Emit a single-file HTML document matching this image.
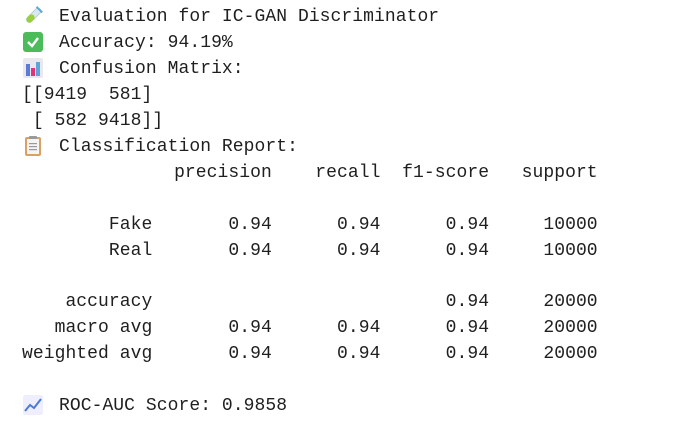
<!DOCTYPE html>
<html><head><meta charset="utf-8"><style>
html,body{margin:0;padding:0;background:#fff;width:675px;height:422px;overflow:hidden}
.l{position:absolute;left:22px;font-family:"Liberation Mono",monospace;font-size:18px;line-height:26px;height:26px;color:#1f1f1f;white-space:pre;letter-spacing:0.06px}
.e{position:absolute;left:23px;width:20px;height:20px}
</style></head><body>
<svg class="e" style="top:6px" viewBox="0 0 20 20"><g transform="rotate(45 10 10)"><rect x="7" y="0" width="6" height="18" rx="3" fill="#d8e8f0" stroke="#9bb" stroke-width="0.6"/><rect x="7" y="9" width="6" height="9" rx="3" fill="#9ad13a"/><rect x="6" y="0" width="8" height="2" fill="#5aa6d8"/></g></svg>
<div class="l" style="top:4px;left:59px">Evaluation for IC-GAN Discriminator</div>
<svg class="e" style="top:32px" viewBox="0 0 20 20"><rect x="0" y="0" width="20" height="20" rx="3" fill="#4cbb5a"/><path d="M5 10 L9 14 L15 6" stroke="#fff" stroke-width="2.4" fill="none"/></svg>
<div class="l" style="top:30px;left:59px">Accuracy: 94.19%</div>
<svg class="e" style="top:58px" viewBox="0 0 20 20"><rect x="0" y="0" width="20" height="20" rx="2" fill="#e8e8ee"/><rect x="3" y="6" width="4" height="12" fill="#5b7bd5"/><rect x="8" y="10" width="4" height="8" fill="#e0337a"/><rect x="13" y="4" width="4" height="14" fill="#5aa6d8"/></svg>
<div class="l" style="top:56px;left:59px">Confusion Matrix:</div>
<div class="l" style="top:82px">[[9419  581]</div>
<div class="l" style="top:108px"> [ 582 9418]]</div>
<svg class="e" style="top:136px" viewBox="0 0 20 20"><rect x="2" y="1" width="16" height="19" rx="2" fill="#d9a066"/><rect x="4" y="3" width="12" height="15" fill="#f4f4f4"/><rect x="6" y="0" width="8" height="3" rx="1" fill="#999"/><rect x="6" y="7" width="8" height="1.2" fill="#999"/><rect x="6" y="10" width="8" height="1.2" fill="#999"/><rect x="6" y="13" width="8" height="1.2" fill="#999"/></svg>
<div class="l" style="top:134px;left:59px">Classification Report:</div>
<div class="l" style="top:160px">              precision    recall  f1-score   support</div>
<div class="l" style="top:212px">        Fake       0.94      0.94      0.94     10000</div>
<div class="l" style="top:238px">        Real       0.94      0.94      0.94     10000</div>
<div class="l" style="top:289px">    accuracy                           0.94     20000</div>
<div class="l" style="top:315px">   macro avg       0.94      0.94      0.94     20000</div>
<div class="l" style="top:341px">weighted avg       0.94      0.94      0.94     20000</div>
<svg class="e" style="top:395px" viewBox="0 0 20 20"><rect x="0" y="0" width="20" height="20" rx="2" fill="#eef"/><path d="M2 16 L7 10 L11 13 L18 4" stroke="#4a7bd5" stroke-width="2" fill="none"/></svg>
<div class="l" style="top:393px;left:59px">ROC-AUC Score: 0.9858</div>
</body></html>
